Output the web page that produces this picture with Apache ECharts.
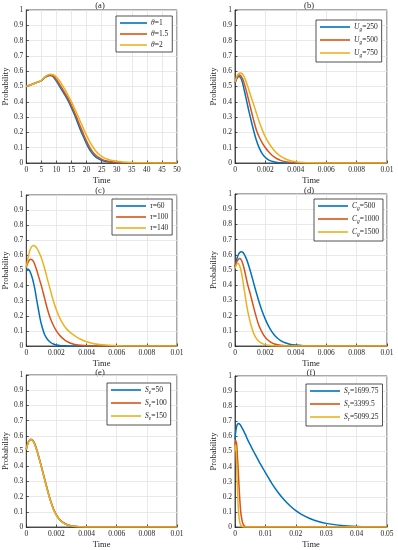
<!DOCTYPE html>
<html><head><meta charset="utf-8">
<script src="https://cdn.jsdelivr.net/npm/echarts@6/dist/echarts.min.js"></script>
<style>html,body{margin:0;padding:0;background:#fff}#c{width:398px;height:550px}</style>
</head><body><div id="c"></div>
<script>
// ---------- DATA ----------
const timeA = [0,2,4,5,6,7,8,9,10,11,12,13,14,15,16,17,18,19,20,21,22,23,24,25,26,27,28,30,32,35,40,45,50];
const namesA = ['θ=1','θ=1.5','θ=2'];
const theta1 = [0.5,0.515,0.53,0.538,0.556,0.568,0.572,0.563,0.535,0.503,0.47,0.438,0.403,0.36,0.315,0.265,0.215,0.17,0.125,0.088,0.06,0.04,0.027,0.018,0.012,0.008,0.005,0.002,0.001,0.0003,0,0,0];
const theta15 = [0.5,0.515,0.53,0.538,0.557,0.57,0.575,0.568,0.546,0.516,0.484,0.451,0.417,0.376,0.332,0.284,0.235,0.188,0.143,0.104,0.074,0.052,0.036,0.025,0.017,0.012,0.008,0.004,0.002,0.0007,0.0001,0,0];
const theta2 = [0.5,0.515,0.53,0.54,0.56,0.574,0.58,0.577,0.562,0.538,0.508,0.474,0.438,0.399,0.357,0.313,0.268,0.223,0.181,0.142,0.108,0.08,0.059,0.043,0.032,0.024,0.018,0.011,0.007,0.0035,0.001,0.0002,0];

const timeB = [0,0.0001,0.0002,0.0003,0.0004,0.0005,0.0006,0.0007,0.0008,0.0009,0.001,0.0012,0.0014,0.0016,0.0018,0.002,0.0022,0.0024,0.0026,0.0028,0.003,0.0033,0.0036,0.004,0.0045,0.005,0.006,0.007,0.008,0.01];
const namesB = ['U_g=250','U_g=500','U_g=750'];
const ug250 = [0.52,0.548,0.562,0.564,0.552,0.522,0.48,0.435,0.39,0.345,0.303,0.222,0.15,0.097,0.06,0.036,0.021,0.012,0.007,0.004,0.002,0.0008,0.0003,0.0001,0,0,0,0,0,0];
const ug500 = [0.525,0.553,0.569,0.575,0.568,0.55,0.522,0.488,0.45,0.41,0.37,0.29,0.218,0.168,0.13,0.1,0.075,0.054,0.038,0.026,0.017,0.009,0.005,0.002,0.0007,0.0002,0,0,0,0];
const ug750 = [0.53,0.562,0.58,0.589,0.589,0.58,0.564,0.54,0.512,0.482,0.45,0.39,0.328,0.268,0.215,0.17,0.134,0.105,0.08,0.06,0.045,0.028,0.017,0.008,0.003,0.001,0.0002,0,0,0];

const namesC = ['τ=60','τ=100','τ=140'];
const tau60 = [0.5,0.51,0.502,0.48,0.45,0.41,0.36,0.3,0.245,0.19,0.145,0.08,0.045,0.025,0.013,0.007,0.004,0.002,0.001,0.0005,0.0002,0,0,0,0,0,0,0,0,0];
const tau100 = [0.52,0.55,0.568,0.575,0.57,0.555,0.53,0.5,0.466,0.433,0.4,0.322,0.245,0.182,0.136,0.1,0.073,0.052,0.036,0.025,0.017,0.009,0.005,0.002,0.0007,0.0002,0,0,0,0];
const tau140 = [0.52,0.575,0.62,0.648,0.662,0.666,0.66,0.648,0.63,0.608,0.585,0.52,0.443,0.37,0.298,0.238,0.19,0.152,0.123,0.1,0.083,0.062,0.045,0.028,0.015,0.008,0.002,0.0005,0.0001,0];

const namesD = ['C_g=500','C_g=1000','C_g=1500'];
const cg500 = [0.52,0.565,0.597,0.614,0.62,0.617,0.605,0.585,0.56,0.53,0.497,0.425,0.352,0.285,0.225,0.175,0.132,0.098,0.071,0.051,0.036,0.021,0.012,0.006,0.002,0.0008,0.0001,0,0,0];
const cg1000 = [0.52,0.55,0.568,0.575,0.568,0.545,0.51,0.465,0.418,0.38,0.345,0.265,0.19,0.128,0.087,0.056,0.036,0.022,0.013,0.008,0.005,0.002,0.001,0.0003,0,0,0,0,0,0];
const cg1500 = [0.51,0.535,0.545,0.53,0.495,0.44,0.375,0.31,0.25,0.2,0.158,0.09,0.05,0.028,0.016,0.009,0.005,0.002,0.001,0.0005,0.0002,0,0,0,0,0,0,0,0,0];

const namesE = ['S_e=50','S_e=100','S_e=150'];
const se50 = [0.51,0.548,0.568,0.576,0.572,0.558,0.535,0.505,0.47,0.435,0.398,0.32,0.245,0.175,0.118,0.078,0.05,0.032,0.02,0.012,0.007,0.003,0.0015,0.0005,0.0001,0,0,0,0,0];
const se100 = [0.51,0.549,0.569,0.577,0.573,0.559,0.537,0.507,0.472,0.437,0.4,0.322,0.247,0.177,0.12,0.08,0.051,0.033,0.021,0.013,0.007,0.003,0.0016,0.0005,0.0001,0,0,0,0,0];
const se150 = [0.51,0.548,0.568,0.576,0.571,0.556,0.533,0.503,0.468,0.433,0.396,0.318,0.243,0.173,0.117,0.077,0.049,0.031,0.019,0.012,0.006,0.003,0.0014,0.0005,0.0001,0,0,0,0,0];

const timeF = [0,0.0001,0.0002,0.0003,0.0004,0.0005,0.0006,0.0008,0.001,0.0012,0.0014,0.0016,0.0018,0.002,0.0025,0.003,0.0035,0.004,0.005,0.006,0.007,0.008,0.009,0.01,0.012,0.014,0.016,0.018,0.02,0.022,0.025,0.028,0.03,0.035,0.04,0.045,0.05];
const namesF = ['S_r=1699.75','S_r=3399.5','S_r=5099.25'];
const sr1699 = [0.58,0.605,0.625,0.64,0.652,0.662,0.67,0.68,0.685,0.686,0.684,0.68,0.675,0.668,0.65,0.63,0.61,0.585,0.545,0.505,0.468,0.43,0.395,0.36,0.292,0.233,0.183,0.142,0.108,0.082,0.053,0.033,0.024,0.01,0.004,0.0015,0.0005];
const sr3399 = [0.54,0.56,0.572,0.575,0.57,0.555,0.535,0.47,0.4,0.32,0.245,0.175,0.12,0.08,0.028,0.008,0.002,0.0005,0,0,0,0,0,0,0,0,0,0,0,0,0,0,0,0,0,0,0];
const sr5099 = [0.5,0.535,0.545,0.53,0.495,0.44,0.375,0.25,0.158,0.09,0.05,0.028,0.016,0.009,0.002,0.0005,0,0,0,0,0,0,0,0,0,0,0,0,0,0,0,0,0,0,0,0,0];

const titles = ['(a)','(b)','(c)','(d)','(e)','(f)'];
const xMaxes = [50,0.01,0.01,0.01,0.01,0.05];
const xSteps = [5,0.002,0.002,0.002,0.002,0.01];

// ---------- LAYOUT ----------
const colors = ['#0072BD','#D95319','#EDB120'];
const FONT = 'Liberation Serif';
const grids = [
  {left:22, top:10, width:155, height:153},
  {left:235, top:10, width:152, height:153},
  {left:23, top:195, width:154, height:151},
  {left:235, top:194, width:152, height:152},
  {left:22, top:375, width:155, height:154},
  {left:235, top:376, width:152, height:153}
];
const legendCfg = [
  {left:116, top:16, itemWidth:27, itemGap:3},
  {left:316, top:20, itemWidth:30, itemGap:3},
  {left:112, top:199, itemWidth:30, itemGap:3},
  {left:314, top:199, itemWidth:30, itemGap:3},
  {left:107, top:383, itemWidth:30, itemGap:3},
  {left:306, top:384, itemWidth:30, itemGap:3}
];
const titlePos = [[100,1],[309,1],[100,186],[309,186],[100,368],[311,368]];
const panels = [
  {t: timeA, names: namesA, ys:[theta1,theta15,theta2]},
  {t: timeB, names: namesB, ys:[ug250,ug500,ug750]},
  {t: timeB, names: namesC, ys:[tau60,tau100,tau140]},
  {t: timeB, names: namesD, ys:[cg500,cg1000,cg1500]},
  {t: timeB, names: namesE, ys:[se50,se100,se150]},
  {t: timeF, names: namesF, ys:[sr1699,sr3399,sr5099]}
];

function fmtName(n){
  const m = n.match(/^([^_=]+)(?:_([^=]+))?=(.*)$/);
  return '{v|'+m[1]+'}' + (m[2] ? '{s|'+m[2]+'}' : '') + '{t|='+m[3]+'}';
}

const option = {
  animation:false,
  backgroundColor:'#fff',
  grid: grids.map(g => Object.assign({show:true, backgroundColor:'#fff', borderColor:'#262626', borderWidth:0.8}, g)),
  xAxis: grids.map((g,i) => ({
    type:'value', gridIndex:i, min:0, max:xMaxes[i], interval:xSteps[i],
    name:'Time', nameLocation:'middle', nameGap:13,
    nameTextStyle:{fontFamily:FONT, fontSize:8.5, color:'#262626'},
    axisLine:{show:true, lineStyle:{color:'#262626', width:0.8}},
    axisTick:{show:true, inside:true, length:2.5, lineStyle:{color:'#262626', width:0.8}},
    axisLabel:{fontFamily:FONT, fontSize:7.5, color:'#262626', margin:3,
      formatter: v => String(+v.toFixed(4))},
    splitLine:{show:true, lineStyle:{color:'#e3e3e3', width:0.8}}
  })),
  yAxis: grids.map((g,i) => ({
    type:'value', gridIndex:i, min:0, max:1, interval:0.1,
    name:'Probability', nameLocation:'middle', nameGap:i%2===0?16:17,
    nameTextStyle:{fontFamily:FONT, fontSize:8.5, color:'#262626'},
    axisLine:{show:true, lineStyle:{color:'#262626', width:0.8}},
    axisTick:{show:true, inside:true, length:2.5, lineStyle:{color:'#262626', width:0.8}},
    axisLabel:{fontFamily:FONT, fontSize:7.5, color:'#262626', margin:3,
      formatter: v => String(+v.toFixed(1))},
    splitLine:{show:true, lineStyle:{color:'#e3e3e3', width:0.8}}
  })),
  legend: panels.map((p,i) => Object.assign({
    orient:'vertical', data:p.names, icon:'rect', itemHeight:1.6,
    padding:[3,4,3,4], borderColor:'#262626', borderWidth:0.8, backgroundColor:'#fff',
    selectedMode:false,
    formatter: fmtName,
    textStyle:{fontFamily:FONT, fontSize:7.5, color:'#262626', padding:[0,0,0,-1],
      rich:{
        v:{fontFamily:FONT, fontStyle:'italic', fontSize:7.5, color:'#262626'},
        s:{fontFamily:FONT, fontStyle:'italic', fontSize:5.5, color:'#262626', padding:[6,0,0,0]},
        t:{fontFamily:FONT, fontSize:7.5, color:'#262626'}
      }}
  }, legendCfg[i])),
  graphic: titles.map((t,i) => ({type:'text', x:titlePos[i][0], y:titlePos[i][1],
    style:{text:t, textAlign:'center', fontFamily:FONT, fontSize:8.5, fill:'#262626'}})),
  series: []
};
panels.forEach((p,i) => {
  p.ys.forEach((y,k) => {
    option.series.push({
      type:'line', name:p.names[k], xAxisIndex:i, yAxisIndex:i,
      data: p.t.map((x,j) => [x, y[j]]),
      symbol:'none', smooth:0.3, color:colors[k],
      lineStyle:{width:1.5, color:colors[k]}
    });
  });
});
const chart = echarts.init(document.getElementById('c'), null, {renderer:'canvas'});
chart.setOption(option);
</script>
</body></html>
